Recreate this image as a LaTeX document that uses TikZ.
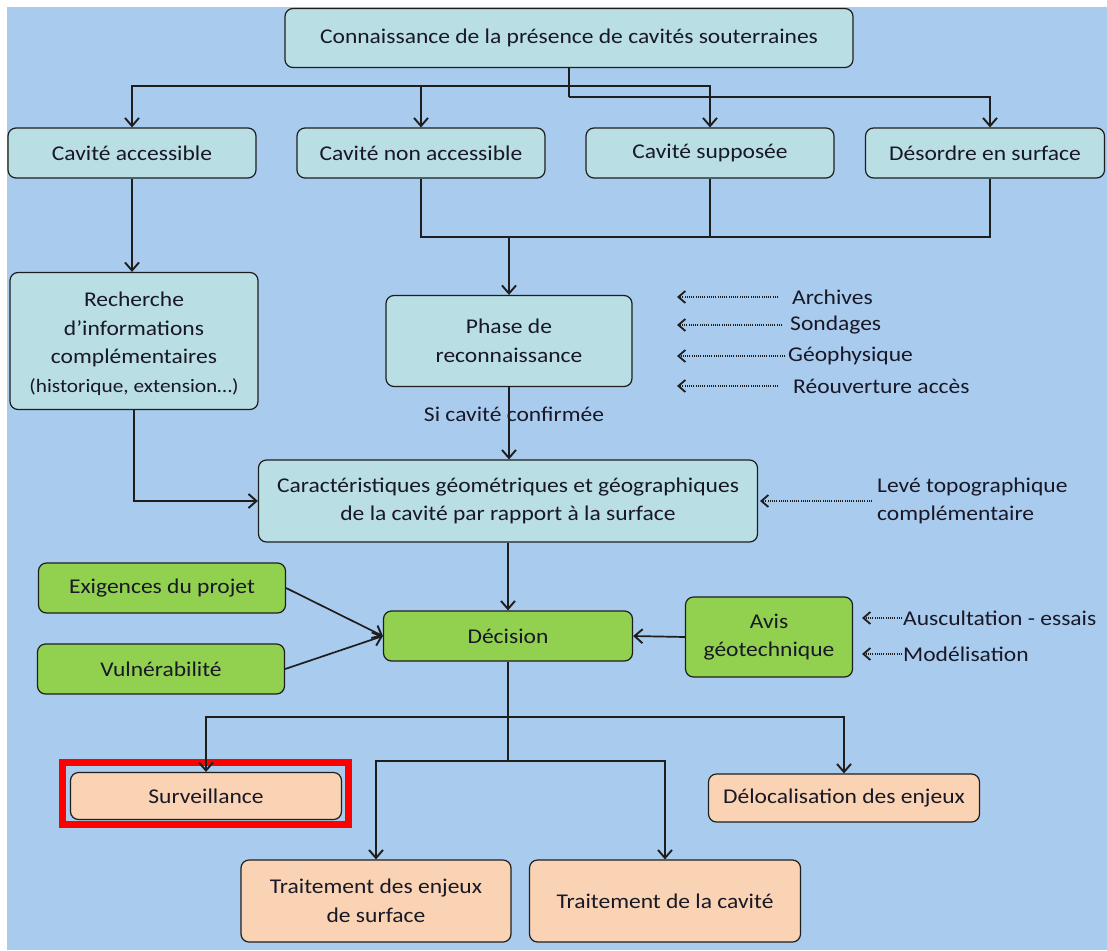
\documentclass[tikz,border=0pt]{standalone}
\usepackage{fontspec}
\setmainfont[FakeStretch=1.12]{Carlito}
\usepackage{tikz}
\usetikzlibrary{arrows.meta}
\definecolor{skyback}{HTML}{A9CBEE}
\definecolor{cyanbox}{HTML}{B9DEE3}
\definecolor{greenbox}{HTML}{92D050}
\definecolor{peachbox}{HTML}{F9D3B3}
\definecolor{inkline}{HTML}{1E1E1E}
\definecolor{inktext}{HTML}{181826}

\begin{document}
\begin{tikzpicture}[x=1pt, y=-1pt,
        font=\fontsize{21}{28.5}\selectfont, text=inktext,
        box/.style={draw=inkline, line width=1.2pt, rounded corners=8pt, align=center, inner sep=0pt},
        cbox/.style={box, fill=cyanbox},
        gbox/.style={box, fill=greenbox},
        pbox/.style={box, fill=peachbox},
        note/.style={anchor=west, inner sep=0pt},
        line/.style={draw=inkline, line width=1.7pt},
        arr/.style={line, -{Straight Barb[length=8pt, width=14pt, line width=1.9pt]}},
        dotarr/.style={draw=inkline, line width=1.2pt, dash pattern=on 1pt off 1.2pt,
            -{Straight Barb[length=7pt, width=12pt, line width=1.8pt]}}]
        % Background
        \fill [white] (0, 0) rectangle (1107, 950);
        \fill [skyback] (7, 7) rectangle (1107, 950);
        \useasboundingbox (0, 0) rectangle (1107, 950);
        % Boxes
        \node [cbox, minimum width=568pt, minimum height=59pt] (known) at (569, 38) {Connaissance de la présence de cavités souterraines};
        \node [cbox, minimum width=248pt, minimum height=50pt] (access) at (132, 153) {Cavité accessible};
        \node [cbox, minimum width=248pt, minimum height=50pt] (nonaccess) at (421, 153) {Cavité non accessible};
        \node [cbox, minimum width=248pt, minimum height=50pt] (supposed) at (710, 153) {Cavité supposée};
        \node [cbox, minimum width=239pt, minimum height=50pt] (disorder) at (985, 153) {Désordre en surface};
        \node [cbox, minimum width=248pt, minimum height=137pt] (research) at (134, 341) {\\[-8pt]Recherche\\d’informations\\complémentaires\\{\fontsize{19}{28.5}\selectfont(historique, extension…)}};
        \node [cbox, minimum width=246pt, minimum height=91pt] (survey) at (509, 341) {Phase de\\reconnaissance};
        \node [cbox, minimum width=499pt, minimum height=82pt] (geometry) at (508, 501) {Caractéristiques géométriques et géographiques\\de la cavité par rapport à la surface};
        \node [gbox, minimum width=247pt, minimum height=50pt] (project) at (162, 588) {Exigences du projet};
        \node [gbox, minimum width=247pt, minimum height=50pt] (vulnerable) at (161, 669) {Vulnérabilité};
        \node [gbox, minimum width=249pt, minimum height=50pt] (decision) at (508, 636) {Décision};
        \node [gbox, minimum width=167pt, minimum height=80pt] (geotech) at (769, 637) {Avis\\géotechnique};
        \node [pbox, minimum width=271pt, minimum height=47pt] (monitor) at (206, 796) {Surveillance};
        \node [pbox, minimum width=271pt, minimum height=48pt] (relocate) at (844, 798) {Délocalisation des enjeux};
        \node [pbox, minimum width=270pt, minimum height=82pt] (treatsurf) at (376, 901) {Traitement des enjeux\\de surface};
        \node [pbox, minimum width=271pt, minimum height=82pt] (treatcav) at (665, 901) {Traitement de la cavité};
        % Highlight
        \draw [red, line width=7pt] (62, 762) rectangle (348, 824);
        % Side notes
        \node [note] (archives) at (792, 297) {Archives};
        \node [note] (drilling) at (790, 325) {Sondages};
        \node [note] (geophys) at (788, 356) {Géophysique};
        \node [note] (reopen) at (793, 386) {Réouverture accès};
        \node [note, align=left] (topo) at (877, 501) {Levé topographique\\complémentaire};
        \node [note] (testing) at (903, 618) {Auscultation - essais};
        \node [note] (model) at (903, 654) {Modélisation};
        \node (confirmed) at (514, 414) {Si cavité confirmée};
        % Junctions
        \coordinate (split) at (569, 86);
        \coordinate (splitlow) at (569, 97);
        \coordinate (merge) at (509, 237);
        \coordinate (forkhigh) at (508, 717);
        \coordinate (forklow) at (508, 761);
        \coordinate (tiparchives) at (677, 297);
        \coordinate (tipdrilling) at (677, 325);
        \coordinate (tipgeophys) at (677, 356);
        \coordinate (tipreopen) at (677, 386);
        \coordinate (tiptopo) at (760, 501);
        \coordinate (tiptesting) at (862, 618);
        \coordinate (tipmodel) at (862, 654);
        % Arrows
        \draw [line, line width=2.6pt] (known.south) -- (splitlow);
        \draw [arr, line width=2.4pt] (split) -| (access.north);
        \draw [arr, line width=2.4pt] (split) -| (nonaccess.north);
        \draw [arr, line width=2.4pt] (split) -| (supposed.north);
        \draw [arr] (splitlow) -| ([xshift=5pt]disorder.north);
        \draw [line, line width=2.3pt] (nonaccess.south) |- (merge);
        \draw [line] (supposed.south) |- (merge);
        \draw [line] ([xshift=5pt]disorder.south) |- (merge);
        \draw [arr, line width=2.3pt] (merge) -- (survey.north);
        \draw [arr] (access.south) -- (access.south |- research.north);
        \draw [arr] (research.south) |- (geometry.west);
        \draw [arr] (survey.south) -- (survey.south |- geometry.north);
        \draw [arr] (geometry.south) -- (decision.north);
        \draw [arr] (project.east) -- (decision.west);
        \draw [arr] (vulnerable.east) -- (decision.west);
        \draw [arr] (geotech.west) -- (decision.east);
        \draw [line] (decision.south) -- (forklow);
        \draw [arr] (forkhigh) -| (monitor.north);
        \draw [arr] (forkhigh) -| (relocate.north);
        \draw [arr] (forklow) -| (treatsurf.north);
        \draw [arr] (forklow) -| (treatcav.north);
        % Dotted inputs
        \draw [dotarr] ([xshift=-14pt]archives.west) -- (tiparchives);
        \draw [dotarr] ([xshift=-8pt]drilling.west) -- (tipdrilling);
        \draw [dotarr] ([xshift=-3pt]geophys.west) -- (tipgeophys);
        \draw [dotarr] ([xshift=-15pt]reopen.west) -- (tipreopen);
        \draw [dotarr] ([xshift=-5pt]topo.west) -- (tiptopo);
        \draw [dotarr] ([xshift=-1pt]testing.west) -- (tiptesting);
        \draw [dotarr] ([xshift=-1pt]model.west) -- (tipmodel);
    \end{tikzpicture}
\end{document}
